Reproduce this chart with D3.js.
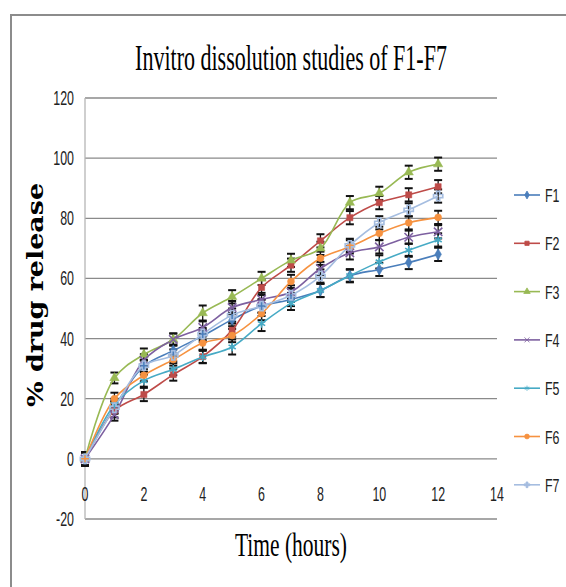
<!DOCTYPE html>
<html>
<head>
<meta charset="utf-8">
<script src="https://cdn.jsdelivr.net/npm/d3@7"></script>
<style>
  body { margin: 0; background: #fff; }
  svg { display: block; }
</style>
</head>
<body>
<svg id="chart"></svg>
<script>
// data
const hours = [0, 1, 2, 3, 4, 5, 6, 7, 8, 9, 10, 11, 12];
const names = ["F1", "F2", "F3", "F4", "F5", "F6", "F7"];
const f1 = [0, 17.2, 30.8, 36, 40.9, 46.3, 50.8, 53, 56, 60.9, 63, 65.3, 68];
const f2 = [0, 16, 21.4, 28, 34, 42.8, 57, 64.4, 72.5, 80.2, 85.2, 87.8, 90.5];
const f3 = [0, 26.9, 34.7, 39.7, 48.5, 53.9, 60, 66, 70, 85.2, 88.3, 95.3, 98];
const f4 = [0, 14.7, 32.8, 39.7, 43.7, 50.3, 53, 55.5, 63.3, 68.5, 70.5, 73.7, 75.5];
const f5 = [0, 18, 26, 29.8, 33.9, 37.2, 45, 51.7, 56, 60.9, 65.5, 69.4, 72.8];
const f6 = [0, 20, 27.8, 33, 38.5, 41, 48.3, 59, 66.7, 70.5, 75, 78.5, 80.3];
const f7 = [0, 17, 31, 34.4, 41.5, 47.8, 50.8, 54.4, 60.8, 71, 78.5, 82.8, 87.4];
// +/- error (sd)
const e1 = [2.2, 2, 2, 2, 2, 2.2, 2.2, 2.2, 2.2, 2, 2.2, 2.2, 2.2];
const e2 = [2.2, 2.2, 2.2, 2, 2.2, 2.2, 2.5, 2.2, 2.2, 2.2, 2.2, 2.2, 2.2];
const e3 = [2.2, 1.8, 2, 2, 2.5, 2.2, 2.2, 2.2, 2.2, 2.2, 2.2, 2.2, 2.2];
const e4 = [2.2, 2, 2, 2, 2, 2.2, 2.2, 2.2, 2.2, 2.2, 2.2, 2.2, 2.2];
const e5 = [2.2, 2, 2, 2, 2, 2.5, 2.5, 2.2, 2.2, 2.2, 2.2, 2.2, 2.2];
const e6 = [2.2, 2, 2, 2, 2.2, 2.2, 2.2, 2.2, 2.2, 2.2, 2.2, 2.2, 2.2];
const e7 = [2.2, 2, 2, 2, 2, 2.2, 2.2, 2.2, 2.2, 2.2, 2.2, 2.2, 2.2];
const yTicks = [-20, 0, 20, 40, 60, 80, 100, 120];
const xTicks = [0, 2, 4, 6, 8, 10, 12, 14];

const colors = ["#4a7ebb", "#be4b48", "#98b954", "#7d60a0", "#46aac5", "#f69240", "#a5bde0"];
const symbols = [d3.symbolDiamond, d3.symbolSquare, d3.symbolTriangle, d3.symbolTimes,
                 d3.symbolAsterisk, d3.symbolCircle, d3.symbolCross];
const series = [f1, f2, f3, f4, f5, f6, f7].map((v, i) => ({
  name: names[i],
  color: colors[i],
  symbol: symbols[i],
  values: v,
  err: [e1, e2, e3, e4, e5, e6, e7][i]
}));

const width = 566, height = 587;
const svg = d3.select("#chart").attr("width", width).attr("height", height);

const x = d3.scaleLinear().domain([0, 14]).range([85, 497]);
const y = d3.scaleLinear().domain([-20, 120]).range([519, 98]);

// squeeze text horizontally, the original fonts are very narrow
function squeeze(sel, k) {
  sel.each(function() {
    const w = this.getComputedTextLength();
    d3.select(this).attr("textLength", w * k).attr("lengthAdjust", "spacingAndGlyphs");
  });
}

// outer frame (top + left only visible)
svg.append("path")
  .attr("d", "M11,587V15H566")
  .attr("fill", "none")
  .attr("stroke", "#8c8c8c")
  .attr("stroke-width", 2);

// gridlines
svg.append("g")
  .selectAll("line")
  .data(yTicks)
  .join("line")
  .attr("x1", x(0)).attr("x2", x(14))
  .attr("y1", d => y(d)).attr("y2", d => y(d))
  .attr("stroke", "#8a8a8a")
  .attr("stroke-width", 1.3);

// y axis line
svg.append("line")
  .attr("x1", x(0)).attr("x2", x(0))
  .attr("y1", y(120)).attr("y2", y(-20))
  .attr("stroke", "#b5b5b5")
  .attr("stroke-width", 1.3);

// y tick labels
svg.append("g")
  .selectAll("text")
  .data(yTicks)
  .join("text")
  .attr("x", 74)
  .attr("y", d => y(d) + 7)
  .attr("text-anchor", "end")
  .style("font", "20px 'Liberation Sans', sans-serif")
  .attr("fill", "#222")
  .text(d => d)
  .call(squeeze, 0.62);

// x tick labels
svg.append("g")
  .selectAll("text")
  .data(xTicks)
  .join("text")
  .attr("x", d => x(d))
  .attr("y", 501)
  .attr("text-anchor", "middle")
  .style("font", "20px 'Liberation Sans', sans-serif")
  .attr("fill", "#222")
  .text(d => d)
  .call(squeeze, 0.62);

// error bars
const bars = svg.append("g").attr("stroke", "#111").attr("stroke-width", 1.3);
series.forEach(s => {
  hours.forEach((h, i) => {
    const cx = x(h), lo = y(s.values[i] - s.err[i]), hi = y(s.values[i] + s.err[i]);
    bars.append("line").attr("x1", cx).attr("x2", cx).attr("y1", lo).attr("y2", hi);
    bars.append("line").attr("x1", cx - 4).attr("x2", cx + 4).attr("y1", lo).attr("y2", lo).attr("stroke-width", 2);
    bars.append("line").attr("x1", cx - 4).attr("x2", cx + 4).attr("y1", hi).attr("y2", hi).attr("stroke-width", 2);
  });
});

// lines
const line = d3.line()
  .x((d, i) => x(hours[i]))
  .y(d => y(d))
  .curve(d3.curveCatmullRom.alpha(0.5));

svg.append("g")
  .selectAll("path")
  .data(series)
  .join("path")
  .attr("d", s => line(s.values))
  .attr("fill", "none")
  .attr("stroke", s => s.color)
  .attr("stroke-width", 1.6);

// markers
series.forEach(s => {
  const open = s.symbol === d3.symbolTimes || s.symbol === d3.symbolAsterisk || s.symbol === d3.symbolCross;
  svg.append("g")
    .selectAll("path")
    .data(s.values)
    .join("path")
    .attr("transform", (d, i) => `translate(${x(hours[i])},${y(d)})`)
    .attr("d", d3.symbol().type(s.symbol).size(open ? 48 : 38))
    .attr("fill", open ? "none" : s.color)
    .attr("stroke", s.color)
    .attr("stroke-width", open ? 1.6 : 0.5);
});

// legend
const legend = svg.append("g")
  .selectAll("g")
  .data(series)
  .join("g")
  .attr("transform", (s, i) => `translate(514,${195 + i * 48.3})`);

legend.append("line")
  .attr("x1", 0).attr("x2", 26)
  .attr("stroke", s => s.color)
  .attr("stroke-width", 1.6);

legend.append("path")
  .attr("transform", "translate(13,0)")
  .attr("d", s => d3.symbol().type(s.symbol).size(18)())
  .attr("fill", s => s.color)
  .attr("stroke", s => s.color)
  .attr("stroke-width", 0.8);

legend.append("text")
  .attr("x", 31)
  .attr("y", 7)
  .style("font", "19px 'Liberation Sans Narrow', 'Liberation Sans', sans-serif")
  .attr("fill", "#222")
  .attr("textLength", 14.5)
  .attr("lengthAdjust", "spacingAndGlyphs")
  .text(s => s.name);

// title, scaled down horizontally to the narrow width of the original
const titleG = svg.append("g");
const title = titleG.append("text")
  .attr("text-anchor", "middle")
  .style("font", "36px 'Liberation Serif', serif")
  .attr("fill", "#000")
  .text("Invitro dissolution studies of F1-F7");
const tw = title.node().getComputedTextLength();
titleG.attr("transform", `translate(291,70) scale(${312 / tw},1)`);

// axis titles
svg.append("text")
  .attr("x", 291)
  .attr("y", 556)
  .attr("text-anchor", "middle")
  .style("font", "33px 'Liberation Serif', serif")
  .attr("fill", "#000")
  .attr("textLength", 112)
  .attr("lengthAdjust", "spacingAndGlyphs")
  .text("Time (hours)");

svg.append("text")
  .attr("transform", "translate(43,295) rotate(-90)")
  .attr("text-anchor", "middle")
  .style("font", "bold 22px 'DejaVu Serif', serif")
  .attr("fill", "#000")
  .attr("textLength", 224)
  .attr("lengthAdjust", "spacingAndGlyphs")
  .text("% drug release");
</script>
</body>
</html>
